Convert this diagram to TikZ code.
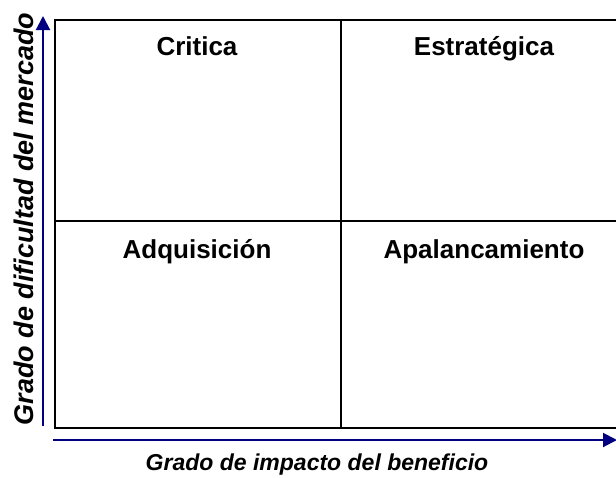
\documentclass[tikz,border=0pt]{standalone}
\usepackage{fontspec}
\setmainfont{Liberation Sans}
\usetikzlibrary{arrows.meta}
\definecolor{axisblue}{RGB}{0,0,128}
\begin{document}
\begin{tikzpicture}[x=1pt,y=-1pt,
  grid/.style={draw=black,line width=2pt},
  axis/.style={draw=axisblue,line width=2pt,-{Triangle[width=14pt,length=14pt]}},
  cell/.style={anchor=base,font=\fontsize{26}{30}\selectfont\bfseries,inner sep=0pt},
  axlabel/.style={font=\bfseries\itshape,inner sep=0pt}]
\useasboundingbox (0,0) rectangle (616,477);
\coordinate (tl) at (55,20);
\coordinate (bl) at (55,428);
\coordinate (tr) at (620,20);
\coordinate (br) at (620,428);
\coordinate (mt) at (341,20);
\coordinate (mb) at (341,428);
\coordinate (ml) at (55,221);
\coordinate (mr) at (620,221);
\draw[grid] (tr) -- (tl) -- (bl) -- (br);
\draw[grid] (mt) -- (mb);
\draw[grid] (ml) -- (mr);
\coordinate (vs) at (43,426);
\coordinate (ve) at (43,16);
\coordinate (hs) at (53,440);
\coordinate (he) at (617,440);
\draw[axis] (vs) -- (ve);
\draw[axis] (hs) -- (he);
\node[cell] (c1) at (197,55) {Critica};
\node[cell] (c2) at (484,55) {Estratégica};
\node[cell] (c3) at (197,258) {Adquisición};
\node[cell] (c4) at (484,258) {Apalancamiento};
\node[axlabel,anchor=base,font=\fontsize{23}{28}\selectfont\bfseries\itshape] (xl) at (317,470) {Grado de impacto del beneficio};
\node[axlabel,anchor=base,rotate=90,font=\fontsize{27}{32}\selectfont\bfseries\itshape] (yl) at (33,219) {Grado de dificultad del mercado};
\end{tikzpicture}
\end{document}
